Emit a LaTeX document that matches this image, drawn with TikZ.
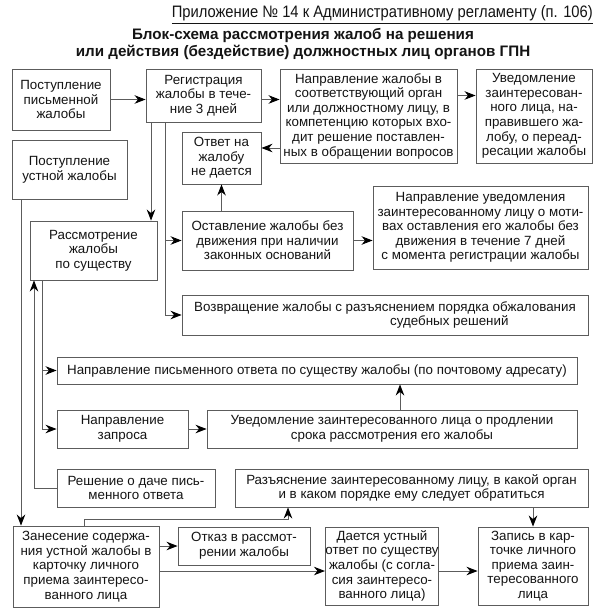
\documentclass[tikz,border=0pt]{standalone}
\usepackage{fontspec}
\usepackage{graphicx}
\setmainfont{Liberation Sans}
\usetikzlibrary{arrows.meta,calc}
\definecolor{ln}{HTML}{5C5C5C}
\definecolor{tx}{HTML}{141414}
\begin{document}
\begin{tikzpicture}[x=1pt,y=-1pt,
  box/.style={draw=ln, line width=0.9pt, inner sep=0pt, align=center, text=tx,
    font=\fontsize{13.35}{14.6}\selectfont, rectangle},
  bx/.style 2 args={box, minimum width=#1, minimum height=#2},
  arr/.style={draw=ln, line width=0.9pt, -{Stealth[length=11pt,width=8.5pt,inset=3.5pt,color=black]}},
  cn/.style={draw=ln, line width=0.9pt}]
\useasboundingbox[fill=white] (0,0) rectangle (600,612);

% header and title
\node[anchor=base east, inner sep=0pt, text=tx] (hdr) at (593,18)
  {\resizebox{421pt}{12pt}{\underline{Приложение № 14 к Административному регламенту (п. 106)}}};
\node[font=\bfseries\fontsize{15.2}{16.5}\selectfont, text=tx, align=center, inner sep=0pt] (ttl) at (303,44)
  {Блок-схема рассмотрения жалоб на решения\\или действия (бездействие) должностных лиц органов ГПН};

% boxes
\node[bx={98}{61}] (post1) at (61,99.5) {Поступление\\письменной\\жалобы};
\node[bx={115}{53}] (reg) at (203.5,95.5) {Регистрация\\жалобы в тече-\\ние 3 дней};
\node[bx={177}{94}] (napr) at (368.5,116) {Направление жалобы в\\соответствующий орган\\или должностному лицу, в\\компетенцию которых вхо-\\дит решение поставлен-\\ных в обращении вопросов};
\node[bx={116}{94}] (uved) at (534,116) {Уведомление\\заинтересован-\\ного лица, на-\\правившего жа-\\лобу, о переад-\\ресации жалобы};
\node[bx={79}{52}] (otv) at (221.5,158) {Ответ на\\жалобу\\не дается};
\node[bx={115}{59}] (post2) at (69.5,169.5) {Поступление\\устной жалобы};
\node[bx={127}{59}] (rassm) at (93.5,250.5) {Рассмотрение\\жалобы\\по существу};
\node[bx={171}{59}] (ostav) at (267.5,240.5) {Оставление жалобы без\\движения при наличии\\законных оснований};
\node[bx={215}{83}] (napruv) at (480.5,227.5) {Направление уведомления\\заинтересованному лицу о моти-\\вах оставления его жалобы без\\движения в течение 7 дней\\с момента регистрации жалобы};
\node[bx={406}{40}, align=left] (vozvr) at (385,315) {Возвращение жалобы с разъяснением порядка обжалования\\\hspace*{196pt}судебных решений};
\node[bx={520}{27}] (naprpis) at (317,370.5) {Направление письменного ответа по существу жалобы (по почтовому адресату)};
\node[bx={131}{38}] (zapros) at (122.5,429) {Направление\\запроса};
\node[bx={370}{38}] (prodl) at (392,429) {Уведомление заинтересованного лица о продлении\\срока рассмотрения его жалобы};
\node[bx={158}{38}] (resh) at (136,488) {Решение о даче пись-\\менного ответа};
\node[bx={353}{38}] (razj) at (411.5,488) {Разъяснение заинтересованному лицу, в какой орган\\и в каком порядке ему следует обратиться};
\node[bx={146}{81}] (zanes) at (86,566.5) {Занесение содержа-\\ния устной жалобы в\\карточку личного\\приема заинтересо-\\ванного лица};
\node[bx={132}{38}] (otkaz) at (244,546) {Отказ в рассмот-\\рении жалобы};
\node[bx={106}{78}] (daet) at (382,566) {Дается устный\\ответ по существу\\жалобы (с согла-\\сия заинтересо-\\ванного лица)};
\node[bx={110}{78}] (zapis) at (533,566) {Запись в кар-\\точке личного\\приема заин-\\тересованного\\лица};

% connectors
\draw[arr] (post1.east) -- (post1.east -| reg.west);
\draw[arr] (reg.east |- post1.east) -- (napr.west |- post1.east);
\draw[arr] (napr.east |- reg.east) -- (uved.west |- reg.east);
\draw[arr] (napr.west |- 0,148) -- (otv.east |- 0,148);
\draw[arr] (otv.south |- ostav.north) -- (otv.south);
\draw[arr] (reg.south -| 151,0) -- (rassm.north -| 151,0);
\draw[arr] (reg.south -| 165,0) |- (vozvr.west);
\draw[arr] (ostav.west -| 165,0) -- (ostav.west);
\draw[arr] (ostav.east) -- (ostav.east -| napruv.west);
\draw[arr] (post2.south -| 21,0) -- (zanes.north -| 21,0);
\draw[arr] (rassm.south -| 42,0) |- (naprpis.west);
\draw[arr] (rassm.south -| 42,0) |- (zapros.west);
\draw[arr] (resh.west) -| (rassm.south -| 34,0);
\draw[arr] (zapros.east) -- (prodl.west);
\draw[arr] (prodl.north -| 400,0) -- (naprpis.south -| 400,0);
\draw[arr] (zanes.east |- otkaz.west) -- (otkaz.west);
\draw[arr] (zanes.north -| 84,0) -- ++(0,-6) -| (razj.south -| 288,0);
\draw[arr] (zanes.east |- 0,571) -- (daet.west |- 0,571);
\draw[arr] (daet.east |- 0,571) -- (zapis.west |- 0,571);
\draw[arr] (razj.south -| zapis.north) -- (zapis.north);
\end{tikzpicture}
\end{document}
